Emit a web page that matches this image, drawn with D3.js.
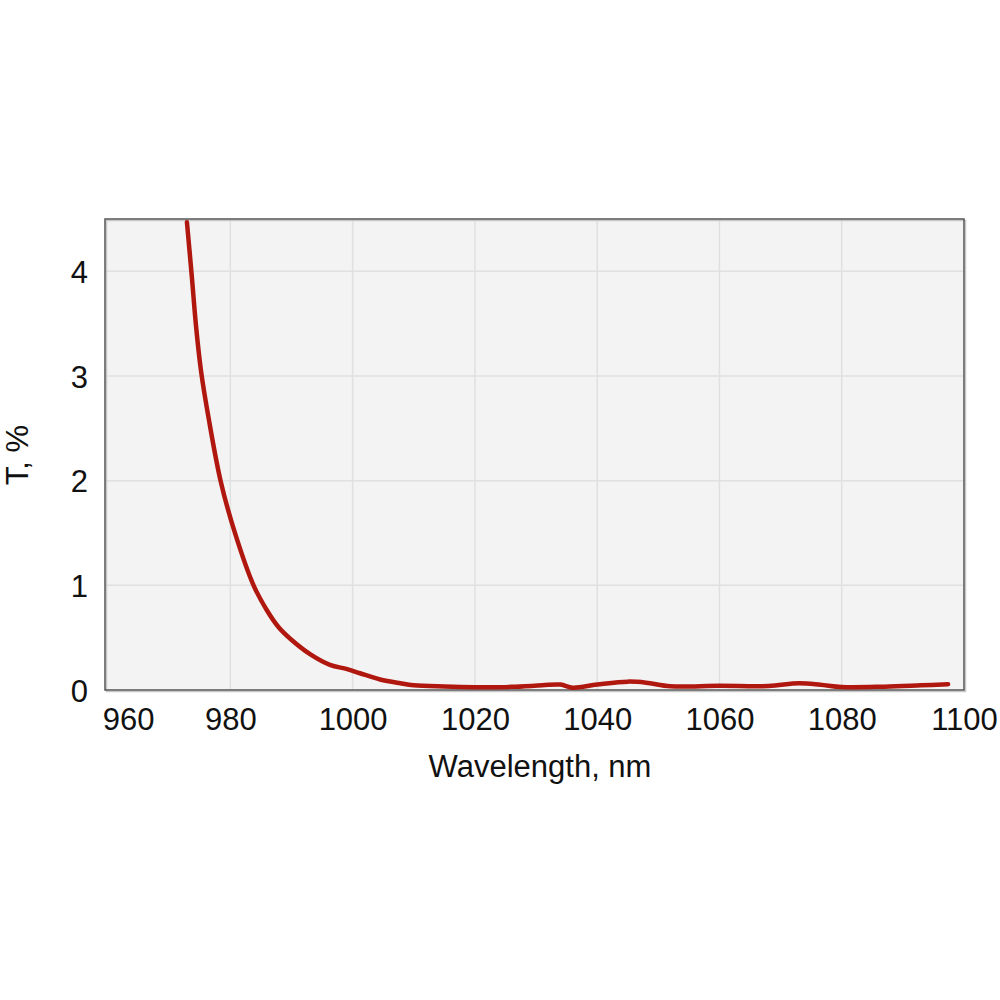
<!DOCTYPE html>
<html>
<head>
<meta charset="utf-8">
<script src="https://cdn.jsdelivr.net/npm/d3@7"></script>
<style>
	body { margin: 0; background: #fff; }
	text { font-family: "Liberation Sans", Arial, sans-serif; fill: #111; }
</style>
</head>
<body>
<div id="chart"></div>
<script>
// wavelength (nm) and transmission (%)
let wavelength = [972.9, 973.7, 974.4, 975.2, 976.5, 978.4, 980.6, 983.8, 986, 987.9, 989.8, 993.1, 996.3, 999.1, 1001.2, 1004.5, 1007.8, 1010, 1015, 1020, 1026, 1031, 1034, 1036, 1040, 1045, 1048, 1052, 1060, 1068, 1073, 1076.5, 1080, 1087, 1093, 1097.4];
let transmission = [4.47, 3.95, 3.47, 3.05, 2.58, 2.00, 1.53, 1.00, 0.76, 0.60, 0.49, 0.34, 0.24, 0.20, 0.16, 0.10, 0.064, 0.045, 0.033, 0.027, 0.030, 0.045, 0.052, 0.022, 0.052, 0.080, 0.070, 0.035, 0.040, 0.038, 0.064, 0.050, 0.028, 0.032, 0.045, 0.055];
let xTicks = [960, 980, 1000, 1020, 1040, 1060, 1080, 1100];
let yTicks = [0, 1, 2, 3, 4];
let xTitle = "Wavelength, nm";
let yTitle = "T, %";

class Chart {
	/*
	* Build the svg and the scales
	*/
	constructor() {
		this.svg = d3.select("#chart").append("svg").attr("width", 1000).attr("height", 1000);
		this.left = 105;
		this.right = 964;
		this.top = 219;
		this.bottom = 690;
		this.x = d3.scaleLinear().domain([959.5, 1100]).range([this.left, this.right]);
		this.y = d3.scaleLinear().domain([0, 4.5]).range([this.bottom, this.top]);
	}

	/*
	* Background, grid and frame
	*/
	drawFrame() {
		let svg = this.svg;
		svg.append("rect").attr("x", this.left).attr("y", this.top)
			.attr("width", this.right - this.left).attr("height", this.bottom - this.top)
			.attr("fill", "#f3f3f3");

		svg.append("g").selectAll("line").data(xTicks.slice(1, -1)).join("line")
			.attr("x1", d => this.x(d)).attr("x2", d => this.x(d))
			.attr("y1", this.top).attr("y2", this.bottom)
			.attr("stroke", "#e0e0e0").attr("stroke-width", 1.5);
		svg.append("g").selectAll("line").data(yTicks.slice(1)).join("line")
			.attr("x1", this.left).attr("x2", this.right)
			.attr("y1", d => this.y(d)).attr("y2", d => this.y(d))
			.attr("stroke", "#e0e0e0").attr("stroke-width", 1.5);

		// soft shadow then the frame itself
		svg.append("rect").attr("x", this.left + 1.5).attr("y", this.top + 1.5)
			.attr("width", this.right - this.left).attr("height", this.bottom - this.top)
			.attr("fill", "none").attr("stroke", "#c8c8c8").attr("stroke-width", 1.5);
		svg.append("rect").attr("x", this.left).attr("y", this.top)
			.attr("width", this.right - this.left).attr("height", this.bottom - this.top)
			.attr("fill", "none").attr("stroke", "#555").attr("stroke-width", 1.5);
	}

	/*
	* Tick labels and axis titles
	*/
	drawAxes() {
		let svg = this.svg;
		let xAxis = svg.append("g").attr("transform", "translate(0," + this.bottom + ")")
			.call(d3.axisBottom(this.x).tickValues(xTicks).tickFormat(d3.format("d")).tickSize(0).tickPadding(0));
		xAxis.select(".domain").remove();
		xAxis.selectAll("text").attr("font-size", 31).attr("dy", 40).attr("y", 0)
			.attr("dx", d => d == 960 ? 20 : 0);

		let yAxis = svg.append("g").attr("transform", "translate(" + this.left + ",0)")
			.call(d3.axisLeft(this.y).tickValues(yTicks).tickFormat(d3.format("d")).tickSize(0).tickPadding(17));
		yAxis.select(".domain").remove();
		yAxis.selectAll("text").attr("font-size", 31).attr("dy", "0.36em");

		svg.append("text").attr("x", 540).attr("y", 777).attr("text-anchor", "middle")
			.attr("font-size", 31).text(xTitle);
		svg.append("text").attr("transform", "translate(28,455) rotate(-90)")
			.attr("text-anchor", "middle").attr("font-size", 31).text(yTitle);
	}

	/*
	* The transmission curve
	*/
	drawCurve() {
		let pts = wavelength.map((w, i) => [w, transmission[i]]);
		let line = d3.line().x(d => this.x(d[0])).y(d => this.y(d[1])).curve(d3.curveCatmullRom.alpha(0.5));
		this.svg.append("path").datum(pts).attr("d", line)
			.attr("fill", "none").attr("stroke", "#b0170e").attr("stroke-width", 4.5)
			.attr("stroke-linejoin", "round").attr("stroke-linecap", "round");
	}
}

let chart = new Chart();
chart.drawFrame();
chart.drawAxes();
chart.drawCurve();
</script>
</body>
</html>
